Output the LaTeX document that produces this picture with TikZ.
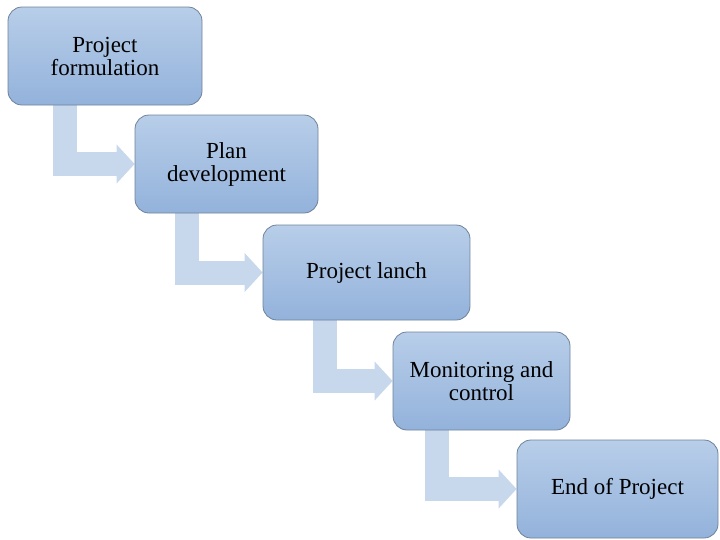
\documentclass[tikz,border=0pt]{standalone}
\usepackage{fontspec}
\setmainfont{Liberation Serif}
\usetikzlibrary{arrows.meta,backgrounds}
\definecolor{boxtop}{HTML}{B8CEE9}
\definecolor{boxbot}{HTML}{93B2DB}
\definecolor{boxline}{HTML}{6F8299}
\definecolor{arrowfill}{HTML}{C7D7EC}
\tikzset{
  stage/.style={rectangle, rounded corners=14pt, draw=boxline, line width=0.8pt,
    top color=boxtop, bottom color=boxbot, align=center,
    font=\fontsize{23}{23}\selectfont, inner sep=0pt},
  flow/.style={draw=arrowfill, line width=24pt, line join=miter,
    -{Triangle[length=18pt,width=38pt]}},
}
\begin{document}
\begin{tikzpicture}[x=1pt,y=-1pt]
\useasboundingbox (0,0) rectangle (720,539);
\node[stage, minimum width=194pt, minimum height=98pt] (b1) at (105,56) {Project\\formulation};
\node[stage, minimum width=183pt, minimum height=98pt] (b2) at (226.5,164) {Plan\\development};
\node[stage, minimum width=207pt, minimum height=95pt] (b3) at (366.5,272.5) {Project lanch};
\node[stage, minimum width=177pt, minimum height=98pt] (b4) at (481.5,381) {Monitoring and\\control};
\node[stage, minimum width=201pt, minimum height=98pt] (b5) at (617.5,489) {End of Project};
\begin{scope}[on background layer]
\draw[flow] ([xshift=57pt]b1.south west) |- (b2.west);
\draw[flow] ([xshift=52pt]b2.south west) |- (b3.west);
\draw[flow] ([xshift=62pt]b3.south west) |- (b4.west);
\draw[flow] ([xshift=44pt]b4.south west) |- (b5.west);
\end{scope}
\end{tikzpicture}
\end{document}
